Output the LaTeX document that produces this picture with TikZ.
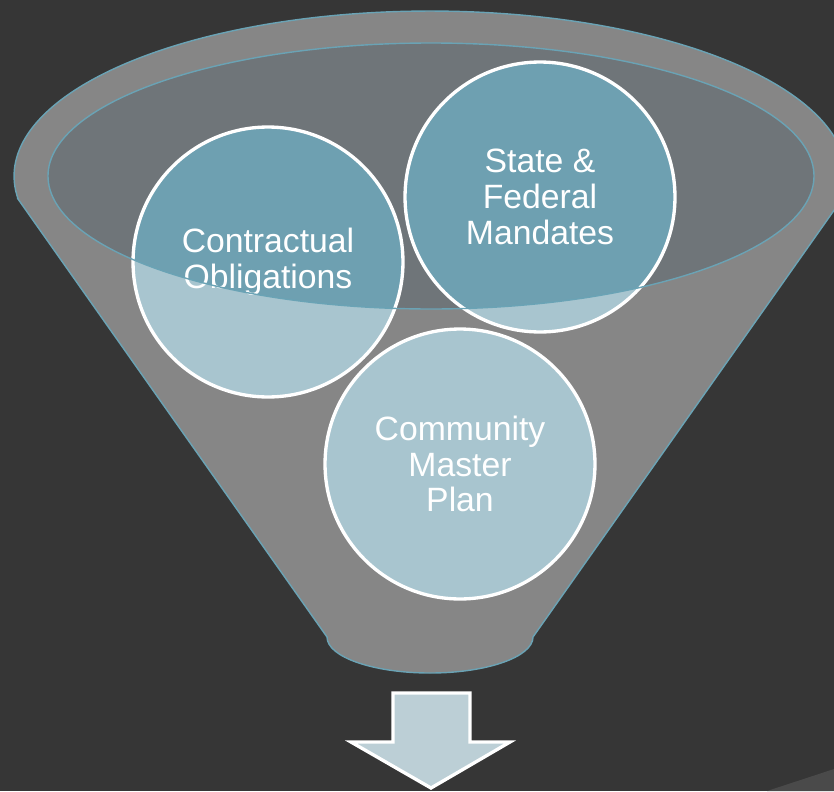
\documentclass[tikz,border=0pt]{standalone}
\usepackage{fontspec}
\setmainfont{Liberation Sans}
\definecolor{backdrop}{HTML}{363636}
\definecolor{cornergray}{HTML}{4A4A4A}
\definecolor{funnelgray}{HTML}{868686}
\definecolor{rimgray}{HTML}{6F7579}
\definecolor{edgeblue}{HTML}{6AA3B5}
\definecolor{palebubble}{HTML}{A8C5CF}
\definecolor{deepbubble}{HTML}{6EA0B1}
\definecolor{arrowfill}{HTML}{BCCFD6}
\begin{document}
\begin{tikzpicture}[x=0.02cm, y=-0.02cm,
        bubble/.style={circle, minimum size=5.4cm, inner sep=0pt, fill=palebubble, draw=white, line width=1.9pt,
            text=white, align=center, font=\fontsize{19.2}{20.4}\selectfont,
            path picture={\fill[deepbubble] (rim) ellipse [x radius=383, y radius=133];}},
        rimline/.style={edgeblue, line width=0.8pt}]
        \useasboundingbox (0,0) rectangle (834,791);
        \clip (0,0) rectangle (834,791);
        \fill[backdrop] (0,0) rectangle (834,791);
        \fill[cornergray] (767,791) -- (834,769) -- (834,791) -- cycle;
        \coordinate (rim) at (431,176);

        \draw[rimline, fill=funnelgray] (18,199) -- (327,637)
            arc[start angle=180, end angle=0, x radius=103, y radius=36] -- (842,199)
            arc[start angle=8, end angle=-188, x radius=416, y radius=165] -- cycle;
        \fill[rimgray] (rim) ellipse [x radius=383, y radius=133];

        \node[bubble] (contract) at (268,262) {Contractual\\Obligations};
        \node[bubble] (mandate)  at (540,197) {State \&\\Federal\\Mandates};
        \node[bubble] (plan)     at (460,464) {Community\\Master\\Plan};

        \draw[rimline] (rim) ellipse [x radius=383, y radius=133];

        \draw[white, line width=1.9pt, fill=arrowfill] (393,693) -- (470,693) -- (470,742) -- (510,742)
            -- (431,788) -- (351,742) -- (393,742) -- cycle;
    \end{tikzpicture}
\end{document}
